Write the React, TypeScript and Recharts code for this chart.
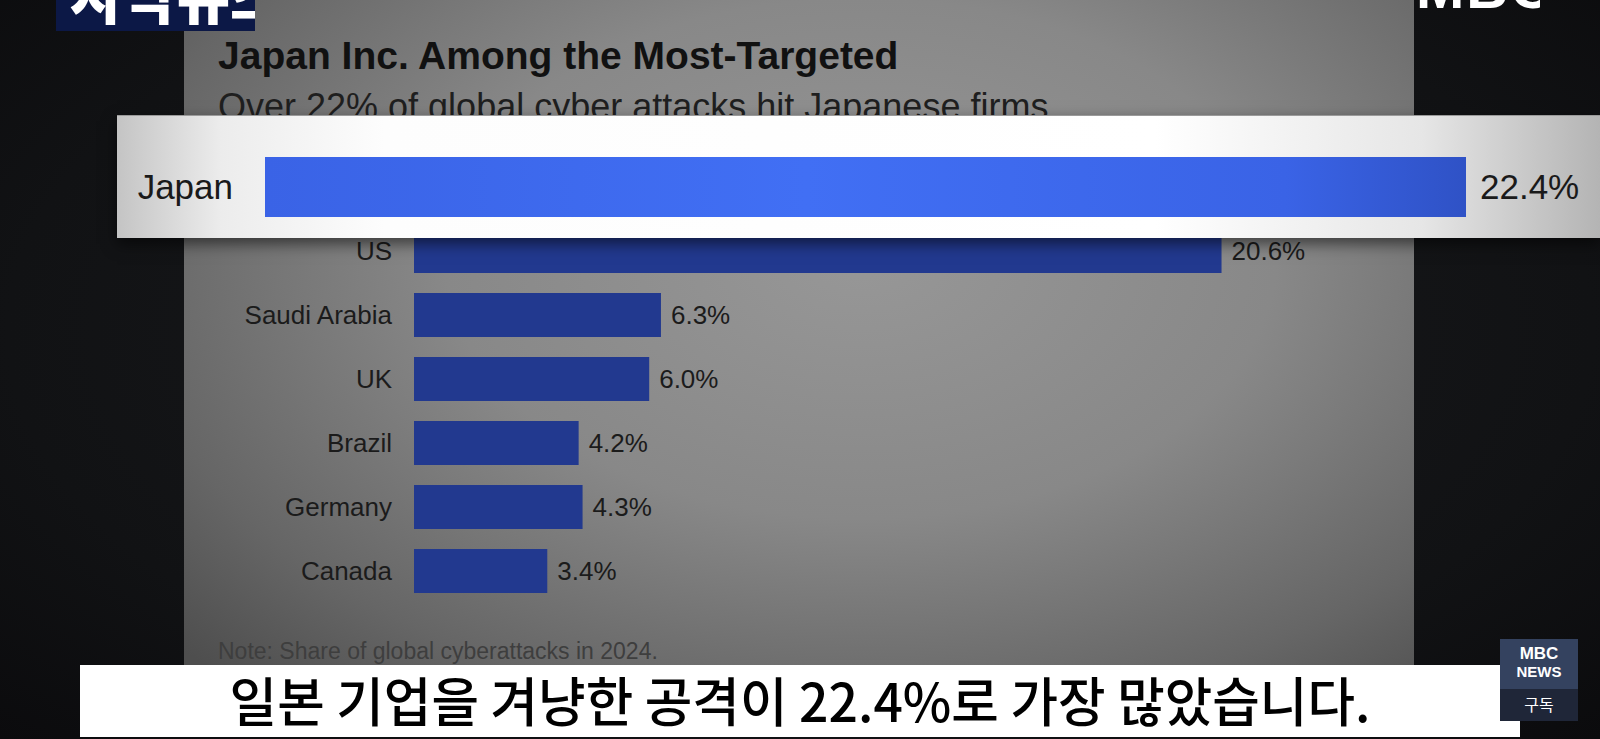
import React from "react";
import { BarChart, Bar, XAxis, YAxis, LabelList } from "recharts";

// values
const countries = ["Japan", "US", "Saudi Arabia", "UK", "Brazil", "Germany", "Canada"];
const shares = [22.4, 20.6, 6.3, 6.0, 4.2, 4.3, 3.4];
const highlightCountries = ["Japan"];
const highlightShares = [22.4];

const chartTitle = "Japan Inc. Among the Most-Targeted";
const chartSubtitle = "Over 22% of global cyber attacks hit Japanese firms";
const chartNote = "Note: Share of global cyberattacks in 2024.";
const caption = "일본 기업을 겨냥한 공격이 22.4%로 가장 많았습니다.";

const FONT = "'Liberation Sans', Arial, sans-serif";
const KFONT = "'Noto Sans CJK KR', sans-serif";

const pct = (v: any) => `${Number(v).toFixed(1)}%`;

const data = countries.map((c, i) => ({ country: c, share: shares[i] }));
const highlight = highlightCountries.map((c, i) => ({ country: c, share: highlightShares[i] }));

function BaseChart() {
  return (
    <BarChart
      width={1230}
      height={470}
      data={data}
      layout="vertical"
      margin={{ top: 0, right: 20, bottom: 22, left: 0 }}
    >
      <XAxis type="number" domain={[0, 25]} hide />
      <YAxis
        type="category"
        dataKey="country"
        width={230}
        axisLine={false}
        tickLine={false}
        tickMargin={16}
        tick={{ fill: "#1b1b1b", fontSize: 26, fontFamily: FONT }}
      />
      <Bar dataKey="share" fill="#22398f" barSize={44} isAnimationActive={false}>
        <LabelList
          dataKey="share"
          position="right"
          offset={10}
          formatter={pct}
          style={{ fill: "#1b1b1b", fontSize: 26, fontFamily: FONT }}
        />
      </Bar>
    </BarChart>
  );
}

function HighlightChart() {
  return (
    <BarChart
      width={1483}
      height={122}
      data={highlight}
      layout="vertical"
      margin={{ top: 20, right: 134, bottom: 0, left: 0 }}
    >
      <defs>
        <linearGradient id="jpGrad" x1="0" y1="0" x2="1" y2="0">
          <stop offset="0%" stopColor="#3a63e6" />
          <stop offset="45%" stopColor="#416ff4" />
          <stop offset="85%" stopColor="#3a63e6" />
          <stop offset="100%" stopColor="#2f52c6" />
        </linearGradient>
      </defs>
      <XAxis type="number" domain={[0, 22.4]} hide />
      <YAxis
        type="category"
        dataKey="country"
        width={148}
        axisLine={false}
        tickLine={false}
        tickMargin={26}
        tick={{ fill: "#1a1a1a", fontSize: 35, fontFamily: FONT }}
      />
      <Bar dataKey="share" fill="url(#jpGrad)" barSize={60} isAnimationActive={false}>
        <LabelList
          dataKey="share"
          position="right"
          offset={14}
          formatter={pct}
          style={{ fill: "#1a1a1a", fontSize: 35, fontFamily: FONT }}
        />
      </Bar>
    </BarChart>
  );
}

export default function App() {
  return (
    <div
      style={{
        position: "absolute",
        left: 0,
        top: 0,
        width: 1600,
        height: 739,
        overflow: "hidden",
        background: "radial-gradient(ellipse at 50% 45%, #1a1b1e 0%, #111214 70%, #0b0b0d 100%)",
        fontFamily: FONT,
      }}
    >
      {/* grey chart panel */}
      <div
        style={{
          position: "absolute",
          left: 184,
          top: 0,
          width: 1230,
          height: 680,
          overflow: "hidden",
          background:
            "radial-gradient(ellipse 75% 85% at 55% 38%, #979797 0%, #888888 45%, #666666 80%, #4e4e4e 100%)",
        }}
      >
        <div
          style={{
            position: "absolute",
            left: 34,
            top: 34,
            fontSize: 39,
            lineHeight: "44px",
            fontWeight: 700,
            color: "#111",
            whiteSpace: "nowrap",
          }}
        >
          {chartTitle}
        </div>
        <div
          style={{
            position: "absolute",
            left: 34,
            top: 87,
            fontSize: 36,
            lineHeight: "40px",
            color: "#1f1f1f",
            whiteSpace: "nowrap",
          }}
        >
          {chartSubtitle}
        </div>
        <div style={{ position: "absolute", left: 0, top: 155 }}>
          <BaseChart />
        </div>
        <div
          style={{
            position: "absolute",
            left: 34,
            top: 639,
            fontSize: 23,
            lineHeight: "24px",
            color: "#3e3e3e",
            whiteSpace: "nowrap",
          }}
        >
          {chartNote}
        </div>
      </div>

      {/* magnified Japan strip */}
      <div
        style={{
          position: "absolute",
          left: 117,
          top: 115,
          width: 1483,
          height: 122,
          background:
            "linear-gradient(to right, #c4c4c4 0%, #ececec 7%, #fdfdfd 18%, #ffffff 70%, #e6e6e6 88%, #b4b4b4 100%)",
          boxShadow: "0 6px 14px rgba(0,0,0,0.55)",
          borderTop: "1px solid #9a9a9a",
        }}
      >
        <HighlightChart />
      </div>

      {/* Korean caption */}
      <div
        style={{
          position: "absolute",
          left: 80,
          top: 665,
          width: 1440,
          height: 72,
          background: "#ffffff",
          display: "flex",
          alignItems: "center",
          justifyContent: "center",
        }}
      >
        <div
          style={{
            fontFamily: KFONT,
            fontSize: 53,
            fontWeight: 500,
            color: "#000",
            whiteSpace: "nowrap",
            transform: "translateY(-2px) scaleX(0.975)",
            lineHeight: "60px",
            flexShrink: 0,
          }}
        >
          {caption}
        </div>
      </div>

      {/* broadcaster marks */}
      <div
        style={{
          position: "absolute",
          left: 56,
          top: 0,
          width: 199,
          height: 31,
          background: "#0c1846",
          overflow: "hidden",
        }}
      >
        <div
          style={{
            position: "absolute",
            left: 14,
            top: -38,
            fontFamily: KFONT,
            fontWeight: 900,
            fontSize: 58,
            lineHeight: "64px",
            color: "#fff",
            whiteSpace: "nowrap",
          }}
        >
          자막뉴스
        </div>
      </div>
      <div
        style={{
          position: "absolute",
          left: 1416,
          top: 0,
          width: 124,
          height: 16,
          overflow: "hidden",
        }}
      >
        <div
          style={{
            position: "absolute",
            left: 0,
            top: -42,
            fontWeight: 700,
            fontSize: 58,
            lineHeight: "60px",
            color: "#fff",
            letterSpacing: 2,
          }}
        >
          MBC
        </div>
      </div>
      <div
        style={{
          position: "absolute",
          left: 1500,
          top: 639,
          width: 78,
          height: 82,
          background: "#1f2638",
          color: "#fff",
          textAlign: "center",
          overflow: "hidden",
        }}
      >
        <div style={{ background: "#34425f", height: 50, paddingTop: 6, boxSizing: "border-box" }}>
          <div style={{ fontSize: 17, fontWeight: 700, lineHeight: "18px" }}>MBC</div>
          <div style={{ fontSize: 15, fontWeight: 700, lineHeight: "18px" }}>NEWS</div>
        </div>
        <div style={{ fontFamily: KFONT, fontSize: 16, lineHeight: "30px" }}>구독</div>
      </div>
    </div>
  );
}
